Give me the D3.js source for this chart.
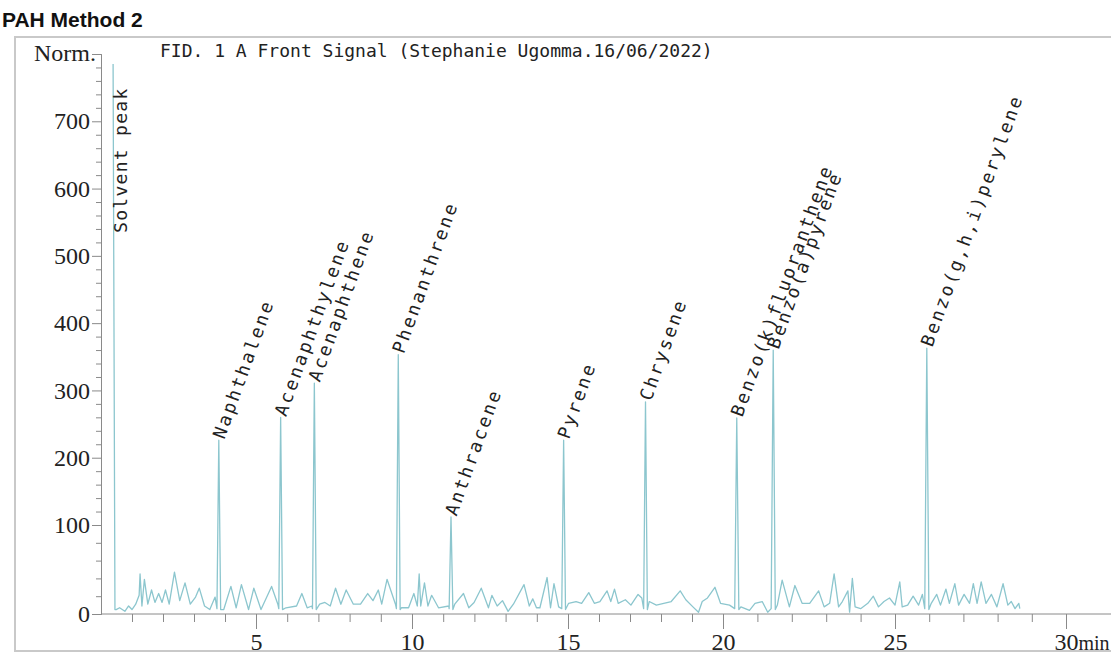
<!DOCTYPE html>
<html>
<head>
<meta charset="utf-8">
<script src="https://cdn.jsdelivr.net/npm/d3@7"></script>
<style>
  body { margin: 0; background: #fff; }
  svg { display: block; }
</style>
</head>
<body>
<div id="chart"></div>
<script>
// peaks (minutes, Norm.)
const peakNames = ["Solvent peak", "Naphthalene", "Acenaphthylene", "Acenaphthene", "Phenanthrene",
  "Anthracene", "Pyrene", "Chrysene", "Benzo(k)fluoranthene", "Benzo(a)pyrene", "Benzo(g,h,i)perylene"];
const peakTimes = [0.39, 3.80, 5.79, 6.87, 9.56, 11.25, 14.86, 17.50, 20.40, 21.46, 25.93];
const peakHeights = [785, 226, 260, 311, 353, 112, 226, 283, 259, 360, 363];

// baseline noise between the peaks
const noiseTimes = [0.49, 0.60, 0.77, 0.89, 1.00, 1.12, 1.23, 1.26, 1.32, 1.40, 1.51, 1.63, 1.74, 1.86, 1.97,
  2.08, 2.20, 2.37, 2.54, 2.71, 2.88, 3.05, 3.17, 3.34, 3.51, 3.68, 3.96, 4.19, 4.36, 4.53, 4.76, 4.93,
  5.16, 5.50, 5.70, 5.96, 6.30, 6.47, 6.64, 6.79, 7.04, 7.21, 7.38, 7.55, 7.72, 7.89, 8.12, 8.35, 8.58,
  8.75, 8.92, 9.03, 9.20, 9.47, 9.66, 9.89, 10.06, 10.17, 10.23, 10.28, 10.40, 10.51, 10.63, 10.85, 11.18,
  11.37, 11.65, 11.82, 11.99, 12.22, 12.45, 12.56, 12.73, 12.90, 13.08, 13.25, 13.59, 13.76, 13.87, 13.99,
  14.10, 14.33, 14.44, 14.55, 14.70, 15.02, 15.26, 15.44, 15.67, 15.85, 16.03, 16.26, 16.38, 16.50, 16.62,
  16.85, 17.03, 17.26, 17.38, 17.62, 17.85, 18.09, 18.33, 18.62, 18.80, 19.03, 19.21, 19.33, 19.50, 19.74,
  19.92, 20.19, 20.52, 20.77, 20.93, 21.14, 21.30, 21.58, 21.72, 21.93, 22.09, 22.30, 22.52, 22.78, 22.94,
  23.10, 23.23, 23.36, 23.47, 23.63, 23.68, 23.76, 23.84, 24.00, 24.21, 24.37, 24.52, 24.68, 24.84, 25.00,
  25.14, 25.21, 25.37, 25.53, 25.69, 25.80, 26.06, 26.22, 26.33, 26.49, 26.59, 26.75, 26.86, 27.02, 27.18,
  27.29, 27.40, 27.52, 27.66, 27.82, 27.98, 28.16, 28.30, 28.40, 28.51, 28.62, 28.65];
const noiseValues = [5, 7, 3, 9, 5, 11, 21, 45, 9, 39, 11, 27, 13, 23, 13,
  27, 11, 47, 15, 35, 11, 19, 29, 9, 5, 19, 5, 31, 7, 33, 5, 29,
  5, 31, 11, 7, 9, 23, 7, 9, 11, 13, 9, 29, 11, 27, 11, 11, 23,
  15, 27, 11, 39, 11, 7, 7, 23, 9, 45, 9, 35, 9, 21, 7, 9,
  11, 23, 7, 13, 29, 7, 21, 9, 15, 3, 11, 33, 9, 17, 7,
  7, 41, 7, 34, 8, 12, 14, 12, 24, 12, 14, 26, 14, 28, 12,
  16, 10, 22, 18, 14, 10, 12, 14, 26, 16, 8, 2, 14, 18, 30,
  12, 10, 8, 4, 12, 14, 2, 10, 38, 8, 32, 12, 12, 26, 8,
  12, 45, 8, 14, 26, 2, 40, 8, 6, 12, 20, 8, 14, 18, 10,
  36, 8, 10, 20, 10, 22, 12, 22, 10, 28, 12, 34, 10, 22, 12,
  34, 12, 36, 12, 22, 8, 34, 10, 14, 6, 12, 6];

const yMajor = [0, 100, 200, 300, 400, 500, 600, 700];
const xMajor = [5, 10, 15, 20, 25, 30];

const width = 1111, height = 657;

const svg = d3.select('#chart').append('svg')
  .attr('width', width)
  .attr('height', height);

// frame
svg.append('rect')
  .attr('x', 15).attr('y', 37)
  .attr('width', 1110).attr('height', 614)
  .attr('fill', 'none')
  .attr('stroke', '#c9c9c9')
  .attr('stroke-width', 2);

svg.append('text')
  .attr('x', 2).attr('y', 27)
  .attr('font-family', 'Liberation Sans, Arial, sans-serif')
  .attr('font-weight', 'bold')
  .attr('font-size', '21px')
  .attr('fill', '#111')
  .text('PAH Method 2');

const x = d3.scaleLinear()
  .domain([0, 5, 10, 15, 20, 25, 30])
  .range([101, 256, 412, 568, 723, 895, 1066]);

const y = d3.scaleLinear()
  .domain([0, 100, 800])
  .range([614, 525, 54]);

// y axis
const yMinor = d3.range(20, 800, 20).filter(v => v % 100 !== 0);
const yAxisMinor = svg.append('g')
  .attr('transform', `translate(${x(0)},0)`)
  .call(d3.axisLeft(y).tickValues(yMinor).tickSize(5).tickFormat(''));
const yAxis = svg.append('g')
  .attr('transform', `translate(${x(0)},0)`)
  .call(d3.axisLeft(y).tickValues(yMajor.concat([800])).tickSize(9).tickPadding(2)
    .tickFormat(d => d === 800 ? '' : d));

// x axis
const xMinor = d3.range(1, 30).filter(v => v % 5 !== 0);
const xAxisMinor = svg.append('g')
  .attr('transform', `translate(0,${y(0)})`)
  .call(d3.axisBottom(x).tickValues(xMinor).tickSize(8).tickFormat(''));
const xAxis = svg.append('g')
  .attr('transform', `translate(0,${y(0)})`)
  .call(d3.axisBottom(x).tickValues(xMajor).tickSize(15).tickPadding(4).tickFormat(d => d));

[yAxisMinor, yAxis, xAxisMinor, xAxis].forEach(g => {
  g.selectAll('.domain').attr('stroke', '#8a8a8a');
  g.selectAll('.tick line').attr('stroke', '#8a8a8a');
  g.selectAll('.tick text')
    .attr('font-family', 'Liberation Serif, Times New Roman, serif')
    .attr('font-size', '24px')
    .attr('fill', '#222');
});
xAxisMinor.select('.domain').remove();
xAxis.select('.domain').remove();

// the x axis line runs on to the right edge
svg.append('line')
  .attr('x1', x(0)).attr('x2', width)
  .attr('y1', y(0)).attr('y2', y(0))
  .attr('stroke', '#8a8a8a');

// "min" after the last tick label
xAxis.selectAll('.tick text')
  .filter(d => d === 30)
  .attr('text-anchor', 'start')
  .attr('dx', '-12')
  .append('tspan')
  .attr('font-size', '20px')
  .text('min');

svg.append('text')
  .attr('x', x(0) - 5).attr('y', 61)
  .attr('text-anchor', 'end')
  .attr('font-family', 'Liberation Serif, Times New Roman, serif')
  .attr('font-size', '24px')
  .attr('fill', '#222')
  .text('Norm.');

svg.append('text')
  .attr('x', 160).attr('y', 57)
  .attr('font-family', 'DejaVu Sans Mono, monospace')
  .attr('font-size', '18px')
  .attr('fill', '#222')
  .text('FID. 1 A Front Signal (Stephanie Ugomma.16/06/2022)');

// build the trace: noise plus sharp peaks
const trace = noiseTimes.map((t, i) => [t, noiseValues[i]]);
peakTimes.forEach((t, i) => {
  if (i > 0) trace.push([t - 0.06, 6]);
  trace.push([t, peakHeights[i]]);
  trace.push([t + 0.06, 5]);
});
trace.sort((a, b) => a[0] - b[0]);

const line = d3.line()
  .x(d => x(d[0]))
  .y(d => y(d[1]));

svg.append('path')
  .datum(trace)
  .attr('fill', 'none')
  .attr('stroke', '#8cc6ce')
  .attr('stroke-width', 1.3)
  .attr('stroke-linejoin', 'round')
  .attr('d', line);

// peak labels
svg.selectAll('.peak-label')
  .data(peakNames)
  .enter().append('text')
  .attr('class', 'peak-label')
  .attr('transform', (d, i) => i === 0
    ? `translate(${x(peakTimes[i]) + 14},233) rotate(-90)`
    : `translate(${x(peakTimes[i])},${y(peakHeights[i])}) rotate(-70)`)
  .attr('dx', (d, i) => i === 0 ? 0 : 2)
  .attr('dy', (d, i) => i === 0 ? 0 : 5)
  .attr('font-family', 'DejaVu Sans Mono, monospace')
  .attr('font-size', '18px')
  .attr('letter-spacing', (d, i) => i === 0 ? '1.3px' : '2.5px')
  .attr('fill', '#222')
  .text(d => d);
</script>
</body>
</html>
